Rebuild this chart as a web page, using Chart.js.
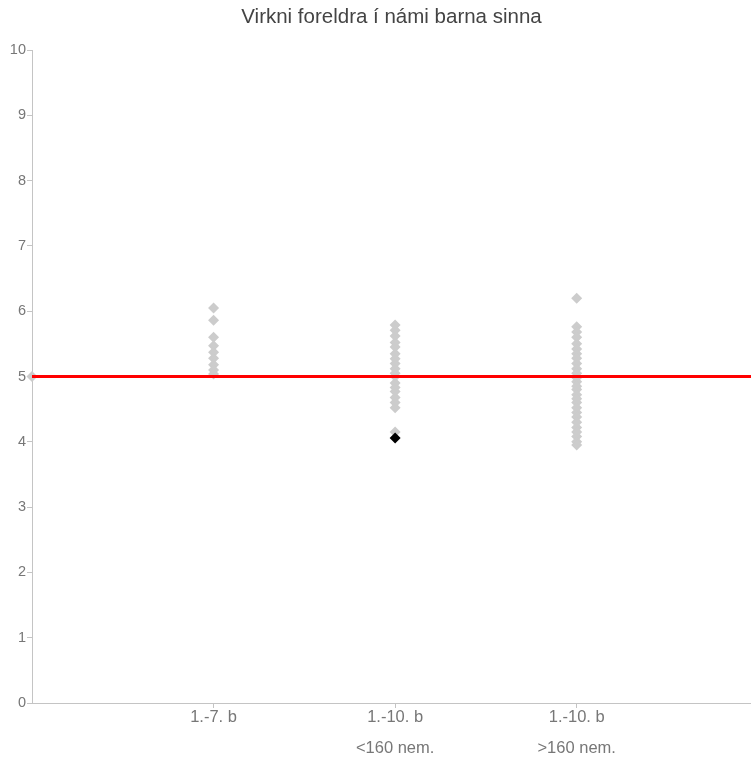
<!DOCTYPE html>
<html>
<head>
<meta charset="utf-8">
<script src="https://cdn.jsdelivr.net/npm/chart.js@4"></script>
<style>
  html, body { margin: 0; padding: 0; background: #fff; overflow: hidden; }
  #wrap { width: 751px; height: 757px; position: relative; }
</style>
</head>
<body>
<div id="wrap"><canvas id="c"></canvas></div>
<script>
const chartTitle = "Virkni foreldra í námi barna sinna";
const categoryLabels = [["1.-7. b"], ["1.-10. b", "<160 nem."], ["1.-10. b", ">160 nem."]];
const categoryPositions = [1, 2, 3];
const yTicks = [0, 1, 2, 3, 4, 5, 6, 7, 8, 9, 10];
const group1Values = [6.05, 5.86, 5.6, 5.47, 5.37, 5.28, 5.18, 5.1, 5.04];
const group2Values = [5.79, 5.71, 5.62, 5.52, 5.45, 5.35, 5.27, 5.2, 5.12, 5.05, 5.0, 4.9, 4.83, 4.77, 4.68, 4.6, 4.52, 4.15];
const group3Values = [6.2, 5.76, 5.68, 5.6, 5.5, 5.42, 5.35, 5.28, 5.2, 5.12, 5.05, 4.98, 4.92, 4.85, 4.8, 4.72, 4.66, 4.6, 4.52, 4.45, 4.38, 4.3, 4.22, 4.15, 4.08, 4.0, 3.95];
const highlightPoint = { category: 2, value: 4.06 };
const referenceValue = 5;
const referenceStartX = 0;
const xMax = 3.96;

const grayPoints = []
  .concat(group1Values.map(v => ({ x: categoryPositions[0], y: v })))
  .concat(group2Values.map(v => ({ x: categoryPositions[1], y: v })))
  .concat(group3Values.map(v => ({ x: categoryPositions[2], y: v })));

const axisColor = '#c4c4c4';
const tickColor = '#777';

const titleCenterPlugin = {
  id: 'titleCenter',
  afterLayout(chart) {
    const t = chart.titleBlock;
    if (t) { t.left = chart.chartArea.left; t.right = chart.chartArea.right; t.width = t.right - t.left; }
  }
};

new Chart(document.getElementById('c'), {
  type: 'scatter',
  data: {
    datasets: [
      {
        type: 'line',
        data: [{ x: referenceStartX, y: referenceValue }, { x: xMax, y: referenceValue }],
        borderColor: 'rgb(255,0,0)',
        borderWidth: 3,
        pointRadius: 0,
        fill: false
      },
      {
        data: [{ x: highlightPoint.category, y: highlightPoint.value }],
        pointStyle: 'rectRot',
        pointRadius: 5.5,
        backgroundColor: '#000',
        borderColor: '#000',
        borderWidth: 0
      },
      {
        data: grayPoints,
        pointStyle: 'rectRot',
        pointRadius: 5.5,
        backgroundColor: '#cccccc',
        borderColor: '#cccccc',
        borderWidth: 0
      },
      {
        data: [{ x: referenceStartX, y: referenceValue }],
        pointStyle: 'rectRot',
        pointRadius: 5.5,
        backgroundColor: '#cccccc',
        borderWidth: 0,
        clip: false
      }
    ]
  },
  options: {
    responsive: true,
    maintainAspectRatio: false,
    animation: false,
    events: [],
    layout: { padding: 0, autoPadding: false },
    plugins: {
      legend: { display: false },
      tooltip: { enabled: false },
      title: {
        display: true,
        text: chartTitle,
        color: '#444',
        font: { family: 'Liberation Sans, Arial, sans-serif', size: 20.5, weight: 'normal' },
        padding: { top: 5, bottom: 20.4 }
      }
    },
    scales: {
      x: {
        type: 'linear',
        min: 0,
        max: xMax,
        afterBuildTicks(axis) { axis.ticks = categoryPositions.map(v => ({ value: v })); },
        afterFit(s) { s.height = 54; },
        grid: { drawOnChartArea: false, color: axisColor, tickLength: 5 },
        border: { color: axisColor, width: 1 },
        ticks: {
          autoSkip: false,
          maxRotation: 0,
          padding: -6,
          color: tickColor,
          font: { family: 'Liberation Sans, Arial, sans-serif', size: 16.5, lineHeight: 1.88 },
          callback: (v, i) => categoryLabels[i]
        }
      },
      y: {
        min: 0,
        max: 10,
        afterBuildTicks(axis) { axis.ticks = yTicks.map(v => ({ value: v })); },
        afterFit(s) { s.width = 32; },
        grid: { drawOnChartArea: false, color: axisColor, tickLength: 5 },
        border: { color: axisColor, width: 1 },
        ticks: {
          padding: 1,
          color: tickColor,
          font: { family: 'Liberation Sans, Arial, sans-serif', size: 14.5 }
        }
      }
    }
  },
  plugins: [titleCenterPlugin]
});
</script>
</body>
</html>
